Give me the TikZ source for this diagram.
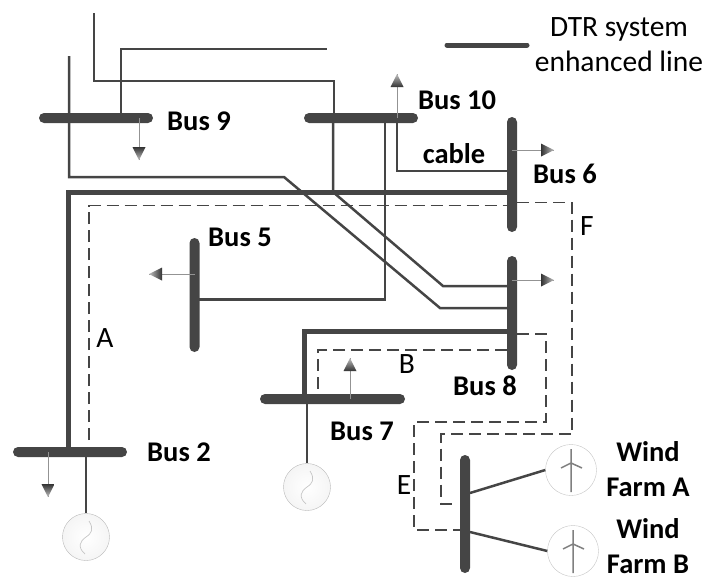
\documentclass[tikz,border=0pt]{standalone}
\usepackage{fontspec}
\setmainfont{Carlito}
\usetikzlibrary{arrows.meta}
\definecolor{wire}{gray}{0.27}
\tikzset{
	busbar/.style={fill=wire, rectangle, rounded corners=5pt, inner sep=0pt},
	hbus/.style={busbar, minimum height=10pt, minimum width=#1},
	vbus/.style={busbar, minimum width=10pt, minimum height=#1},
	acline/.style={draw=wire, line width=2.5pt},
	dtrline/.style={draw=wire, line width=5pt},
	contingency/.style={draw=wire, line width=1.3pt, dash pattern=on 12pt off 6pt},
	loadline/.style={draw=gray!85, line width=1pt},
	genset/.style={circle, draw=gray!55, inner color=white, outer color=gray!8, minimum size=47pt, inner sep=0pt},
	windset/.style={circle, draw=gray!45, fill=white, minimum size=51pt, inner sep=0pt},
	buslabel/.style={font=\fontsize{28.5}{35}\selectfont\bfseries, align=center, inner sep=0pt},
	caselabel/.style={font=\fontsize{29.5}{35}\selectfont, align=center, inner sep=0pt},
}
\begin{document}
\begin{tikzpicture}[x=1pt,y=-1pt]
	\useasboundingbox (0,0) rectangle (705,579);
	% busbars
	\node[hbus=114pt] (bus9) at (96,118) {};
	\node[hbus=114pt] (bus10) at (361,118) {};
	\node[vbus=115pt] (bus6) at (512,174.5) {};
	\node[vbus=114pt] (bus5) at (194.5,295) {};
	\node[vbus=114pt] (bus8) at (512,313) {};
	\node[hbus=145pt] (bus7) at (332.5,399) {};
	\node[hbus=114pt] (bus2) at (70,452) {};
	\node[vbus=118pt] (buswind) at (465,514) {};
	% sources
	\node[genset] (gen2) at (86,537) {};
	\node[genset] (gen7) at (307,487) {};
	\node[windset] (windA) at (571,470) {};
	\node[windset] (windB) at (573,551) {};
	% free ends
	\coordinate (endtop) at (94,13);
	\coordinate (endleft) at (69,56);
	\coordinate (endright) at (327,49);
	\coordinate (legendA) at (447,45);
	\coordinate (legendB) at (527,45);
	\coordinate (load9) at (139,160);
	\coordinate (load10) at (397,74);
	\coordinate (load6) at (554,150);
	\coordinate (load5) at (149,274);
	\coordinate (load8) at (554,280);
	\coordinate (load7) at (350,358);
	\coordinate (load2) at (48,497);
	% plain lines
	\draw[acline] (endtop) |- (334,81) -- ([shift={(-27,0)}]bus10.center);
	\draw[acline] ([shift={(25,0)}]bus9.center) |- (endright);
	\draw[acline] (endleft) -- (69,177) -- (284,177) -- (440,308) -- ([shift={(0,-5)}]bus8.center);
	\draw[acline] ([shift={(-28,0)}]bus10.center) -- (333,192) -- (443,286) -- ([shift={(0,-27)}]bus8.center);
	\draw[acline] ([shift={(24,0)}]bus10.center) |- ([shift={(0,4.5)}]bus5.center);
	\draw[acline] ([shift={(36,0)}]bus10.center) |- ([shift={(0,-3.5)}]bus6.center);
	\draw[acline] ([shift={(16,0)}]bus2.center) -- (gen2.north);
	\draw[acline] ([shift={(-25.5,0)}]bus7.center) -- (gen7.north);
	\draw[acline] ([shift={(5,-21)}]buswind.center) -- (windA.west);
	\draw[acline] ([shift={(5,18)}]buswind.center) -- (windB.west);
	% enhanced lines
	\draw[dtrline, line cap=round] (legendA) -- (legendB);
	\draw[dtrline] ([shift={(0,17.5)}]bus6.center) -| ([shift={(-2,0)}]bus2.center);
	\draw[dtrline] ([shift={(0,18)}]bus8.center) -| ([shift={(-28.5,0)}]bus7.center);
	% dashed paths
	\draw[contingency] ([shift={(19,-12)}]bus2.center) |- ([shift={(-5,31)}]bus6.center);
	\draw[contingency] ([shift={(5,28)}]bus6.center) -- (572,202.5) -- (572,434) -- (441,434) -- (441,504) -- ([shift={(-9,-10)}]buswind.center);
	\draw[contingency] ([shift={(-5,37)}]bus8.center) -| ([shift={(-14.5,-10)}]bus7.center);
	\draw[contingency] ([shift={(5,21)}]bus8.center) -- (546,334) -- (546,422) -- (414,422) -- (414,530) -- ([shift={(-5,16)}]buswind.center);
	% loads
	\draw[loadline] ([shift={(43,0)}]bus9.center) -- (load9);
	\draw[loadline] ([shift={(36,0)}]bus10.center) -- (load10);
	\draw[loadline] ([shift={(0,-24.5)}]bus6.center) -- (load6);
	\draw[loadline] ([shift={(0,-21)}]bus5.center) -- (load5);
	\draw[loadline] ([shift={(0,-33)}]bus8.center) -- (load8);
	\draw[loadline] ([shift={(17.5,0)}]bus7.center) -- (load7);
	\draw[loadline] ([shift={(-22,0)}]bus2.center) -- (load2);
	\foreach \tip/\ang in {load9/180,load10/0,load6/-90,load5/90,load8/-90,load7/0,load2/180}
		\shade[shading=axis, bottom color=black!80, top color=gray!50, shading angle=\ang, shift={(\tip)}, rotate=\ang] (0,0) -- (-6.5,13) -- (6.5,13) -- cycle;
	% generator and turbine symbols
	\foreach \gen in {gen2,gen7}
		\draw[gray!45, line width=0.7pt, shift={(\gen.center)}] (3,-16) .. controls (8,-8) and (6,-4) .. (0,0) .. controls (-6,4) and (-9,10) .. (-1,17);
	\foreach \wf in {windA,windB}
		\draw[gray, line width=1.5pt, shift={(\wf.center)}] (0,-21) -- (0,22) (-10,-2) -- (0,-7) -- (11,-2);
	% labels
	\node[buslabel] (lab9) at (199,121) {Bus 9};
	\node[buslabel] (lab10) at (457,100) {Bus 10};
	\node[buslabel] (labcable) at (454,154) {cable};
	\node[buslabel] (lab6) at (565,174) {Bus 6};
	\node[buslabel] (lab5) at (240,237) {Bus 5};
	\node[buslabel] (lab2) at (179,452) {Bus 2};
	\node[buslabel] (lab7) at (362,431) {Bus 7};
	\node[buslabel] (lab8) at (485,386) {Bus 8};
	\node[buslabel] (labA) at (648,469) {Wind\\Farm A};
	\node[buslabel] (labB) at (648,546) {Wind\\Farm B};
	\node[caselabel] (caseA) at (105,338) {A};
	\node[caselabel] (caseB) at (407,364) {B};
	\node[caselabel] (caseE) at (404,485) {E};
	\node[caselabel] (caseF) at (587,226) {F};
	\node[caselabel] (legend) at (619,45) {DTR system\\enhanced line};
\end{tikzpicture}
\end{document}
